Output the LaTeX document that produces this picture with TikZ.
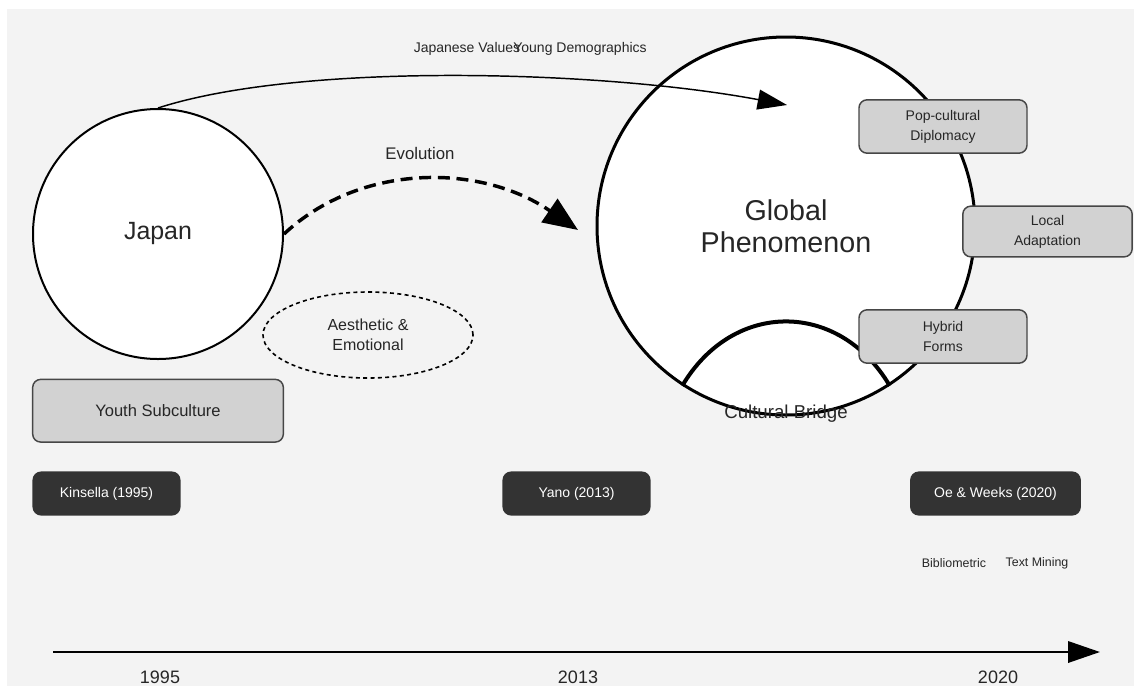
\documentclass[tikz,border=0pt]{standalone}
\usepackage{fontspec}
\setmainfont{Liberation Sans}
\usepackage{tikz}
\usetikzlibrary{shapes,positioning,arrows.meta,calc}
\definecolor{pgbg}{RGB}{243,243,243}
\definecolor{pgbox}{RGB}{210,210,210}
\definecolor{pgdark}{RGB}{51,51,51}
\definecolor{pgline}{RGB}{70,70,70}
\newcommand{\ctag}{pgbox}
\newcommand{\cref}{pgdark}
\tikzset{
	every node/.style = { align = center, text=black!85 },
	bubble/.style = { circle, draw, fill=white, inner sep=0pt },
	tag/.style = { rectangle, rounded corners=6pt, draw=pgline, line width=1.1pt, fill=\ctag,
		font=\fontsize{10.5}{15}\selectfont, minimum width=126pt, minimum height=40pt },
	refbox/.style = { tag, fill=\cref, draw=black!80, text=white, font=\fontsize{10.5}{12}\selectfont,
		minimum width=110pt, minimum height=32pt },
	note/.style = { font=\fontsize{9.3}{11}\selectfont },
	year/.style = { font=\fontsize{13.5}{15}\selectfont },
	flow/.style = { line width=1.1pt, -{Triangle[length=22pt,width=15pt]} },
}

\begin{document}
\begin{tikzpicture}[x=0.75pt,y=-0.75pt,node distance=5mm]
\fill[white] (0,0) rectangle (1134,686);
\fill[pgbg] (7,9) rectangle (1134,686);
\useasboundingbox (0,0) rectangle (1134,686);

% main bubbles
\node (japan) [bubble, line width=1.5pt, minimum size=187.5pt, font=\fontsize{18.7}{22}\selectfont] at (158,234) {Japan};
\node (glob)  [bubble, line width=2.25pt, minimum size=283.5pt, font=\fontsize{21.5}{24}\selectfont] at (786,226) {Global\\Phenomenon};

\node (youth) [tag, below=14pt of japan, minimum width=188pt, minimum height=47pt, font=\fontsize{12.4}{15}\selectfont] {Youth Subculture};
\node (aes)   [ellipse, draw, dash pattern=on 3pt off 2.5pt, line width=1.2pt, minimum width=157.5pt, minimum height=64.5pt,
               font=\fontsize{12}{15}\selectfont] at (368,335) {Aesthetic \&\\Emotional};

% evolution
\coordinate (evo) at (578,230);
\draw[line width=2.6pt, dash pattern=on 9pt off 5pt, -{Triangle[length=26pt,width=21pt]}]
	(japan.east) .. controls (360,163) and (480,163) .. (evo);
\node (evol) [font=\fontsize{12.6}{15}\selectfont] at (420,153) {Evolution};

% values
\coordinate (vals) at (787,105);
\draw[flow] (japan.north) .. controls (300,62) and (600,70) .. (vals);
\node (jv) [font=\fontsize{10.5}{12}\selectfont] at (467,49) {Japanese Values};
\node (yd) [font=\fontsize{10.5}{12}\selectfont] at (580,49) {Young Demographics};

% bridge
\draw[line width=3pt] (glob.237) .. controls (733,300) and (839,300) .. (glob.303);
\node (bridge) [font=\fontsize{14}{16}\selectfont] at (786,414) {Cultural Bridge};

% outcomes
\node (pop) [tag] at (943,126.5)  {Pop-cultural\\Diplomacy};
\node (loc) [tag, minimum width=127pt, minimum height=38pt] at (1047.5,231.5) {Local\\Adaptation};
\node (hyb) [tag] at (943,336.5)  {Hybrid\\Forms};

% references
\node (kins) [refbox] at (106.5,493.5) {Kinsella (1995)};
\node (yano) [refbox] at (576.5,493.5) {Yano (2013)};
\node (oe)   [refbox, minimum width=127pt] at (995.5,493.5) {Oe \& Weeks (2020)};
\node (bib)  [note] at (954,563)  {Bibliometric};
\node (txt)  [note] at (1037,563) {Text Mining};

% timeline
\coordinate (t0) at (53,652);
\coordinate (t1) at (1100,652);
\draw[line width=1.8pt, -{Triangle[length=24pt,width=16pt]}] (t0) -- (t1);
\node (y95) [year] at (160,677) {1995};
\node (y13) [year] at (578,677) {2013};
\node (y20) [year] at (998,677) {2020};

\end{tikzpicture}
\end{document}
